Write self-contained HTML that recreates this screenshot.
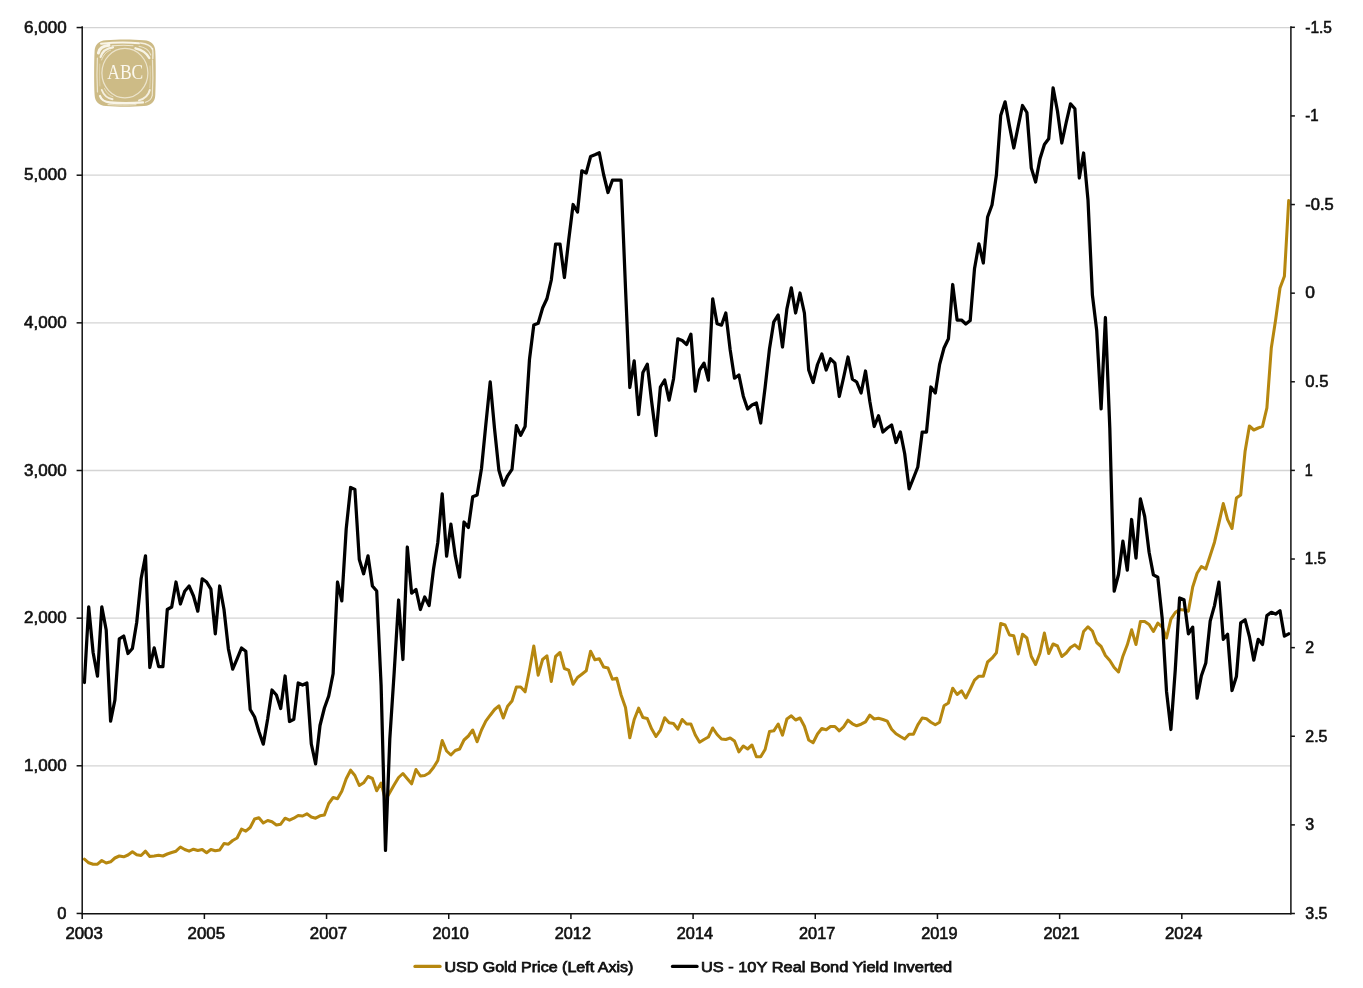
<!DOCTYPE html>
<html lang="en"><head><meta charset="utf-8"><title>USD Gold Price vs US 10Y Real Bond Yield Inverted</title>
<style>html,body{margin:0;padding:0;background:#fff}body{width:1363px;height:988px;overflow:hidden}svg{display:block}text{font-family:"Liberation Sans",Arial,sans-serif;font-size:15.8px;fill:#111;stroke:#111;stroke-width:.6px}.lg{stroke-width:.75px;font-size:14.7px}svg{will-change:transform}.abc{font-family:"Liberation Serif","Times New Roman",serif;font-size:21px;fill:#fbf8ee;stroke:none}</style></head><body>
<svg width="1363" height="988" viewBox="0 0 1363 988">
<rect width="1363" height="988" fill="#fff"/>
<g stroke="#d4d4d4" stroke-width="1.3">
<line x1="82.2" y1="765.80" x2="1290.9" y2="765.80"/>
<line x1="82.2" y1="618.15" x2="1290.9" y2="618.15"/>
<line x1="82.2" y1="470.50" x2="1290.9" y2="470.50"/>
<line x1="82.2" y1="322.85" x2="1290.9" y2="322.85"/>
<line x1="82.2" y1="175.20" x2="1290.9" y2="175.20"/>
<line x1="82.2" y1="27.55" x2="1290.9" y2="27.55"/>
</g>
<g id="logo">
<path d="M106,40.2 C118,39.2 132,39.2 144,40.2 C151.5,40.8 155,44.5 155.3,51 C155.9,62 155.9,84 155.3,95 C155,101.8 151.5,105.5 144,106 C132,106.9 118,106.9 106,106 C98.5,105.5 95,101.8 94.6,95 C94,84 94,62 94.6,51 C95,44.5 98.5,40.8 106,40.2 Z" fill="#cdbb86"/>
<g fill="none" stroke="#fbf8ee" stroke-linecap="round">
<path d="M101,43.7 C112,42.5 130,42.3 139,43.3" stroke-width="1.9" opacity=".95"/>
<path d="M112,45.9 C119,45.2 127,45.2 133,45.7" stroke-width="1.1" opacity=".75"/>
<path d="M98.4,53 C99.3,47.8 102.8,45.8 109,45.3" stroke-width="3" opacity=".95"/>
<path d="M100.6,57 C102.4,51 106.2,48.3 113,47.4" stroke-width="2.2" opacity=".9"/>
<path d="M101.6,60 C103.5,54.5 106.5,51.5 110.5,50.2" stroke-width="1" opacity=".6"/>
<path d="M140.5,42.9 C147,43.6 151,45.8 152.2,49" stroke-width="1.5" opacity=".85"/>
<path d="M135.5,48.3 C142,49.8 146.5,52.5 149.3,58" stroke-width="2.4" opacity=".92"/>
<path d="M139,46.3 C145,47.3 149,50 150.8,55" stroke-width="1.1" opacity=".7"/>
<path d="M152.6,48.5 C153.1,52 153.1,55 152.8,58.5" stroke-width="1.3" opacity=".85"/>
<path d="M152.5,60 C153,70 153,84 152.3,95" stroke-width="1.2" opacity=".7"/>
<path d="M150,66 C150.4,74 150.3,82 149.8,88" stroke-width=".8" opacity=".5"/>
<path d="M97.4,58 C96.9,68 96.9,82 97.5,92" stroke-width="1.2" opacity=".7"/>
<path d="M99.8,64 C99.5,72 99.5,80 99.9,86" stroke-width=".8" opacity=".45"/>
<path d="M100,96 C101.5,100.5 104.5,102 110,102.5 C121,103.5 132,103.4 143,102.4" stroke-width="2.3" opacity=".95"/>
<path d="M108,104.6 C117,105.2 128,105.2 136,104.7" stroke-width="1" opacity=".7"/>
<path d="M101.8,90 C103.8,95.5 107,98.2 112.5,99.3" stroke-width="1.9" opacity=".85"/>
<path d="M104.5,88.5 C106.5,92.8 109,95.5 113,96.8" stroke-width=".9" opacity=".55"/>
<path d="M139,100.4 C145,98.6 148.5,95.2 149.8,90" stroke-width="2" opacity=".85"/>
<path d="M145.5,102.3 C149.5,101 151.6,98.5 152.2,95.5" stroke-width="1.2" opacity=".75"/>
</g>
<ellipse cx="124.9" cy="73.1" rx="23" ry="24.7" fill="#cdbb86" stroke="#ece4cc" stroke-width="1.25"/>
<text class="abc" x="107.3" y="78.7" textLength="36" lengthAdjust="spacingAndGlyphs">ABC</text>
</g>
<polyline fill="none" stroke="#b6870f" stroke-width="3.05" stroke-linejoin="round" stroke-linecap="round" points="84.4,859.2 88.7,862.8 93.1,864.2 97.5,864.2 101.8,860.5 106.2,863.0 110.6,861.8 114.9,858.0 119.3,856.0 123.7,856.8 128.0,855.0 132.4,851.8 136.7,854.8 141.1,855.5 145.5,851.2 149.8,856.5 154.2,856.0 158.6,855.2 162.9,856.0 167.3,854.0 171.7,852.5 176.0,851.2 180.4,847.0 184.7,849.5 189.1,851.2 193.5,849.2 197.8,850.5 202.2,849.5 206.6,852.8 210.9,849.5 215.3,850.8 219.7,850.0 224.0,843.5 228.4,844.2 232.7,840.5 237.1,838.0 241.5,829.2 245.8,831.2 250.2,827.5 254.6,819.0 258.9,817.8 263.3,823.0 267.7,820.5 272.0,821.8 276.4,825.0 280.7,824.2 285.1,818.2 289.5,820.2 293.8,818.2 298.2,815.5 302.6,816.0 306.9,813.8 311.3,817.0 315.6,818.2 320.0,815.8 324.4,815.0 328.7,803.5 333.1,797.5 337.5,798.8 341.8,791.2 346.2,778.8 350.6,770.2 354.9,775.5 359.3,785.5 363.6,782.8 368.0,776.5 372.4,778.5 376.7,790.8 381.1,783.0 385.5,800.0 389.8,792.5 394.2,784.8 398.6,777.5 402.9,773.5 407.3,778.8 411.6,783.8 416.0,769.5 420.4,776.0 424.7,775.5 429.1,773.0 433.5,767.5 437.8,760.5 442.2,740.5 446.6,751.0 450.9,755.0 455.3,750.5 459.6,749.0 464.0,740.0 468.4,736.0 472.7,730.0 477.1,741.8 481.5,730.0 485.8,721.2 490.2,715.2 494.6,709.5 498.9,705.8 503.3,718.0 507.6,706.2 512.0,701.0 516.4,687.0 520.7,687.0 525.1,691.8 529.5,670.0 533.8,646.0 538.2,675.2 542.6,659.5 546.9,655.8 551.3,681.5 555.6,656.5 560.0,652.5 564.4,668.5 568.7,670.2 573.1,684.2 577.5,677.5 581.8,674.2 586.2,670.8 590.6,651.2 594.9,659.8 599.3,658.8 603.6,667.0 608.0,668.0 612.4,679.2 616.7,678.2 621.1,695.0 625.5,707.5 629.8,737.8 634.2,719.5 638.6,708.2 642.9,717.5 647.3,718.5 651.6,728.8 656.0,736.5 660.4,730.1 664.7,717.8 669.1,722.8 673.5,723.5 677.8,729.2 682.2,719.5 686.6,724.0 690.9,724.0 695.3,735.0 699.6,742.2 704.0,739.5 708.4,737.0 712.7,728.0 717.1,734.5 721.5,739.0 725.8,739.5 730.2,738.0 734.5,741.0 738.9,751.8 743.3,746.0 747.6,749.0 752.0,745.0 756.4,756.8 760.7,756.8 765.1,749.5 769.5,731.5 773.8,730.8 778.2,724.0 782.5,735.2 786.9,719.0 791.3,715.8 795.6,720.0 800.0,718.0 804.4,726.2 808.7,740.0 813.1,742.8 817.5,734.0 821.8,728.5 826.2,729.8 830.5,726.5 834.9,726.5 839.3,730.8 843.6,726.8 848.0,720.2 852.4,723.8 856.7,725.8 861.1,724.2 865.5,721.8 869.8,715.2 874.2,719.0 878.5,718.2 882.9,719.5 887.3,721.2 891.6,729.2 896.0,733.8 900.4,736.5 904.7,739.0 909.1,734.2 913.5,734.2 917.8,724.8 922.2,718.0 926.5,718.8 930.9,722.2 935.3,724.8 939.6,722.2 944.0,705.8 948.4,703.0 952.7,688.2 957.1,694.5 961.5,690.8 965.8,698.0 970.2,689.2 974.5,680.2 978.9,676.2 983.3,676.2 987.6,662.0 992.0,658.2 996.4,652.8 1000.7,623.5 1005.1,625.0 1009.5,635.0 1013.8,635.8 1018.2,654.0 1022.5,634.2 1026.9,638.0 1031.3,656.5 1035.6,664.5 1040.0,653.0 1044.4,633.0 1048.7,653.5 1053.1,644.0 1057.5,646.0 1061.8,656.5 1066.2,653.0 1070.5,647.5 1074.9,644.8 1079.3,648.8 1083.6,631.5 1088.0,626.8 1092.4,631.0 1096.7,642.5 1101.1,646.5 1105.4,655.5 1109.8,660.5 1114.2,667.5 1118.5,672.0 1122.9,656.2 1127.3,644.8 1131.6,629.8 1136.0,644.5 1140.4,621.5 1144.7,621.5 1149.1,624.5 1153.4,631.5 1157.8,623.2 1162.2,627.0 1166.5,638.0 1170.9,619.2 1175.3,612.5 1179.6,609.5 1184.0,610.0 1188.4,611.2 1192.7,587.0 1197.1,573.2 1201.4,566.5 1205.8,568.9 1210.2,555.5 1214.5,542.2 1218.9,523.1 1223.3,503.6 1227.6,519.6 1232.0,528.5 1236.4,498.1 1240.7,495.0 1245.1,451.2 1249.4,426.0 1253.8,430.0 1258.2,428.0 1262.5,426.4 1266.9,407.8 1271.3,348.0 1275.6,320.0 1280.0,288.0 1284.4,276.2 1288.7,200.5"/>
<polyline fill="none" stroke="#000" stroke-width="3.25" stroke-linejoin="round" stroke-linecap="round" points="84.4,682.5 88.7,606.8 93.1,652.5 97.5,676.2 101.8,606.8 106.2,630.0 110.6,721.2 114.9,700.0 119.3,638.8 123.7,636.0 128.0,653.5 132.4,648.5 136.7,622.5 141.1,578.8 145.5,555.8 149.8,667.5 154.2,647.8 158.6,666.5 162.9,666.5 167.3,609.5 171.7,607.0 176.0,582.0 180.4,604.0 184.7,591.2 189.1,586.0 193.5,596.0 197.8,611.2 202.2,578.8 206.6,582.0 210.9,589.2 215.3,633.8 219.7,586.0 224.0,609.5 228.4,648.8 232.7,669.2 237.1,658.8 241.5,648.0 245.8,651.2 250.2,709.5 254.6,717.0 258.9,731.5 263.3,744.2 267.7,718.8 272.0,690.0 276.4,695.0 280.7,708.5 285.1,676.0 289.5,721.5 293.8,719.2 298.2,683.0 302.6,685.0 306.9,683.0 311.3,744.0 315.6,763.8 320.0,725.5 324.4,708.0 328.7,696.0 333.1,673.8 337.5,582.0 341.8,600.8 346.2,528.8 350.6,487.5 354.9,489.5 359.3,559.5 363.6,573.8 368.0,555.8 372.4,586.0 376.7,591.0 381.1,685.0 385.5,850.4 389.8,739.0 394.2,672.0 398.6,600.0 402.9,659.5 407.3,547.0 411.6,593.2 416.0,589.5 420.4,609.5 424.7,597.0 429.1,605.5 433.5,569.2 437.8,542.5 442.2,493.8 446.6,556.2 450.9,524.2 455.3,556.2 459.6,577.2 464.0,522.0 468.4,527.5 472.7,496.7 477.1,494.9 481.5,468.5 485.8,424.8 490.2,381.9 494.6,429.3 498.9,470.3 503.3,485.2 507.6,475.8 512.0,469.4 516.4,425.7 520.7,435.3 525.1,426.6 529.5,359.2 533.8,325.0 538.2,323.2 542.6,308.0 546.9,298.8 551.3,280.0 555.6,244.0 560.0,244.0 564.4,277.5 568.7,240.0 573.1,204.5 577.5,212.0 581.8,170.8 586.2,173.0 590.6,156.5 594.9,154.8 599.3,152.8 603.6,174.5 608.0,192.5 612.4,180.2 616.7,180.2 621.1,180.2 625.5,288.0 629.8,387.5 634.2,360.8 638.6,414.5 642.9,372.5 647.3,364.2 651.6,401.2 656.0,435.5 660.4,387.0 664.7,380.0 669.1,400.2 673.5,379.0 677.8,338.8 682.2,340.5 686.6,344.5 690.9,334.2 695.3,391.2 699.6,370.0 704.0,363.2 708.4,380.2 712.7,298.8 717.1,323.8 721.5,325.2 725.8,313.0 730.2,350.0 734.5,378.2 738.9,375.0 743.3,396.2 747.6,409.0 752.0,405.0 756.4,403.0 760.7,423.0 765.1,387.5 769.5,348.8 773.8,321.8 778.2,315.0 782.5,347.0 786.9,308.8 791.3,287.8 795.6,313.0 800.0,293.0 804.4,313.0 808.7,370.0 813.1,382.5 817.5,364.5 821.8,354.0 826.2,370.0 830.5,358.8 834.9,363.2 839.3,396.5 843.6,377.5 848.0,357.0 852.4,379.2 856.7,382.0 861.1,393.0 865.5,371.0 869.8,401.2 874.2,426.5 878.5,415.8 882.9,432.0 887.3,428.0 891.6,425.0 896.0,442.5 900.4,432.0 904.7,453.8 909.1,488.8 913.5,478.0 917.8,467.0 922.2,432.0 926.5,432.0 930.9,387.0 935.3,393.0 939.6,364.5 944.0,348.0 948.4,338.8 952.7,284.5 957.1,320.0 961.5,320.0 965.8,324.0 970.2,320.5 974.5,268.8 978.9,243.8 983.3,263.0 987.6,217.0 992.0,205.0 996.4,175.0 1000.7,115.5 1005.1,101.8 1009.5,126.2 1013.8,148.0 1018.2,126.2 1022.5,105.5 1026.9,112.5 1031.3,168.0 1035.6,182.0 1040.0,158.8 1044.4,144.5 1048.7,138.8 1053.1,87.8 1057.5,111.2 1061.8,143.0 1066.2,122.5 1070.5,103.8 1074.9,108.8 1079.3,178.0 1083.6,153.0 1088.0,200.0 1092.4,295.0 1096.7,330.5 1101.1,408.8 1105.4,317.5 1109.8,428.0 1114.2,591.2 1118.5,574.5 1122.9,541.2 1127.3,570.2 1131.6,519.5 1136.0,558.1 1140.4,498.8 1144.7,516.5 1149.1,552.2 1153.4,574.9 1157.8,577.3 1162.2,618.3 1166.5,691.2 1170.9,729.5 1175.3,669.3 1179.6,597.9 1184.0,599.7 1188.4,633.8 1192.7,627.1 1197.1,698.1 1201.4,675.7 1205.8,663.0 1210.2,621.0 1214.5,605.6 1218.9,582.2 1223.3,639.3 1227.6,634.3 1232.0,690.5 1236.4,676.6 1240.7,622.9 1245.1,619.8 1249.4,636.5 1253.8,660.2 1258.2,639.3 1262.5,644.5 1266.9,615.6 1271.3,612.3 1275.6,614.1 1280.0,610.7 1284.4,636.2 1288.7,633.8"/>
<g stroke="#111" stroke-width="1.5" fill="none">
<line x1="82.2" y1="26.3" x2="82.2" y2="914.6"/>
<line x1="1290.9" y1="26.3" x2="1290.9" y2="914.6"/>
<line x1="82.2" y1="913.8" x2="1290.9" y2="913.8"/>
</g><g stroke="#111" stroke-width="1.5">
<line x1="76.6" y1="913.45" x2="82.2" y2="913.45"/>
<line x1="76.6" y1="765.80" x2="82.2" y2="765.80"/>
<line x1="76.6" y1="618.15" x2="82.2" y2="618.15"/>
<line x1="76.6" y1="470.50" x2="82.2" y2="470.50"/>
<line x1="76.6" y1="322.85" x2="82.2" y2="322.85"/>
<line x1="76.6" y1="175.20" x2="82.2" y2="175.20"/>
<line x1="76.6" y1="27.55" x2="82.2" y2="27.55"/>
<line x1="1290.9" y1="27.30" x2="1294.9" y2="27.30"/>
<line x1="1290.9" y1="115.92" x2="1294.9" y2="115.92"/>
<line x1="1290.9" y1="204.54" x2="1294.9" y2="204.54"/>
<line x1="1290.9" y1="293.16" x2="1294.9" y2="293.16"/>
<line x1="1290.9" y1="381.78" x2="1294.9" y2="381.78"/>
<line x1="1290.9" y1="470.40" x2="1294.9" y2="470.40"/>
<line x1="1290.9" y1="559.02" x2="1294.9" y2="559.02"/>
<line x1="1290.9" y1="647.64" x2="1294.9" y2="647.64"/>
<line x1="1290.9" y1="736.26" x2="1294.9" y2="736.26"/>
<line x1="1290.9" y1="824.88" x2="1294.9" y2="824.88"/>
<line x1="1290.9" y1="913.50" x2="1294.9" y2="913.50"/>
<line x1="82.20" y1="913.8" x2="82.20" y2="919.0"/>
<line x1="204.38" y1="913.8" x2="204.38" y2="919.0"/>
<line x1="326.56" y1="913.8" x2="326.56" y2="919.0"/>
<line x1="448.74" y1="913.8" x2="448.74" y2="919.0"/>
<line x1="570.92" y1="913.8" x2="570.92" y2="919.0"/>
<line x1="693.10" y1="913.8" x2="693.10" y2="919.0"/>
<line x1="815.27" y1="913.8" x2="815.27" y2="919.0"/>
<line x1="937.45" y1="913.8" x2="937.45" y2="919.0"/>
<line x1="1059.63" y1="913.8" x2="1059.63" y2="919.0"/>
<line x1="1181.81" y1="913.8" x2="1181.81" y2="919.0"/>
</g>
<text x="57.2" y="918.5" textLength="9.2" lengthAdjust="spacingAndGlyphs">0</text>
<text x="24.1" y="770.8" textLength="42.5" lengthAdjust="spacingAndGlyphs">1,000</text>
<text x="24.1" y="623.2" textLength="42.5" lengthAdjust="spacingAndGlyphs">2,000</text>
<text x="24.1" y="475.5" textLength="42.5" lengthAdjust="spacingAndGlyphs">3,000</text>
<text x="24.1" y="327.9" textLength="42.5" lengthAdjust="spacingAndGlyphs">4,000</text>
<text x="24.1" y="180.2" textLength="42.5" lengthAdjust="spacingAndGlyphs">5,000</text>
<text x="24.1" y="32.5" textLength="42.5" lengthAdjust="spacingAndGlyphs">6,000</text>
<text x="1305.3" y="32.5" textLength="26.7" lengthAdjust="spacingAndGlyphs">-1.5</text>
<text x="1305.3" y="121.1" textLength="13.3" lengthAdjust="spacingAndGlyphs">-1</text>
<text x="1305.3" y="209.7" textLength="28.4" lengthAdjust="spacingAndGlyphs">-0.5</text>
<text x="1305.3" y="298.4" textLength="9.7" lengthAdjust="spacingAndGlyphs">0</text>
<text x="1305.3" y="387.0" textLength="23.1" lengthAdjust="spacingAndGlyphs">0.5</text>
<text x="1304.7" y="475.6" textLength="8.0" lengthAdjust="spacingAndGlyphs">1</text>
<text x="1304.7" y="564.2" textLength="21.4" lengthAdjust="spacingAndGlyphs">1.5</text>
<text x="1305.3" y="652.8" textLength="8.9" lengthAdjust="spacingAndGlyphs">2</text>
<text x="1305.3" y="741.5" textLength="22.2" lengthAdjust="spacingAndGlyphs">2.5</text>
<text x="1305.3" y="830.1" textLength="8.9" lengthAdjust="spacingAndGlyphs">3</text>
<text x="1305.3" y="918.7" textLength="22.2" lengthAdjust="spacingAndGlyphs">3.5</text>
<text x="65.4" y="939.3" textLength="37.4" lengthAdjust="spacingAndGlyphs">2003</text>
<text x="187.6" y="939.3" textLength="37.4" lengthAdjust="spacingAndGlyphs">2005</text>
<text x="309.8" y="939.3" textLength="37.4" lengthAdjust="spacingAndGlyphs">2007</text>
<text x="432.5" y="939.3" textLength="36.3" lengthAdjust="spacingAndGlyphs">2010</text>
<text x="554.7" y="939.3" textLength="36.3" lengthAdjust="spacingAndGlyphs">2012</text>
<text x="676.8" y="939.3" textLength="36.3" lengthAdjust="spacingAndGlyphs">2014</text>
<text x="799.0" y="939.3" textLength="36.3" lengthAdjust="spacingAndGlyphs">2017</text>
<text x="921.2" y="939.3" textLength="36.3" lengthAdjust="spacingAndGlyphs">2019</text>
<text x="1043.4" y="939.3" textLength="36.3" lengthAdjust="spacingAndGlyphs">2021</text>
<text x="1165.0" y="939.3" textLength="37.4" lengthAdjust="spacingAndGlyphs">2024</text>
<line x1="415" y1="966.4" x2="440" y2="966.4" stroke="#b6870f" stroke-width="3.3" stroke-linecap="round"/>
<text class="lg" x="444.4" y="971.7" textLength="189" lengthAdjust="spacingAndGlyphs">USD Gold Price (Left Axis)</text>
<line x1="672.5" y1="966.4" x2="697" y2="966.4" stroke="#000" stroke-width="3.3" stroke-linecap="round"/>
<text class="lg" x="700.9" y="971.7" textLength="251.3" lengthAdjust="spacingAndGlyphs">US - 10Y Real Bond Yield Inverted</text>
</svg></body></html>
